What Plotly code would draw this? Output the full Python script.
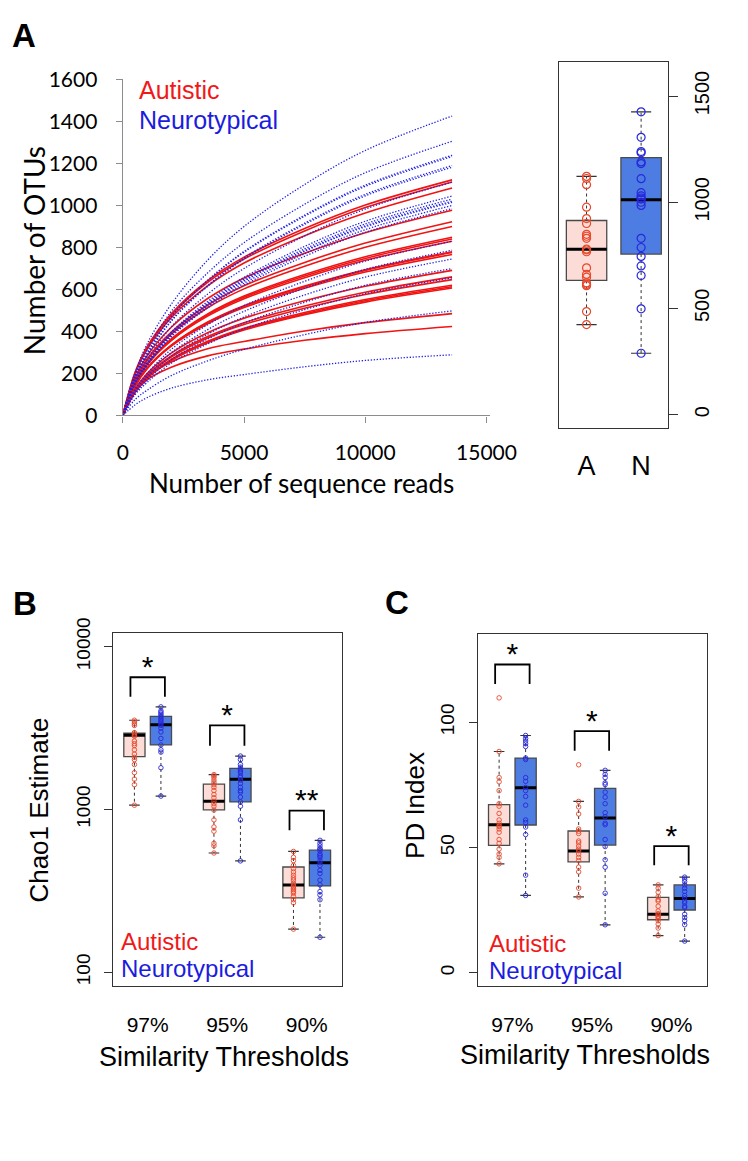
import plotly.graph_objects as go

W, H = 748, 1161
def px(x): return x / W
def py(y): return 1 - y / H

# ---------------- DATA ----------------
# Panel A: rarefaction curves (number of OTUs at given sequence-read depths)
reads = [0, 500, 1000, 2000, 3500, 5000, 7500, 10000, 13580]
autistic_curves = [
    [0, 203, 326, 484, 642, 754, 890, 1002, 1122],
    [0, 200, 322, 478, 634, 745, 879, 990, 1112],
    [0, 195, 314, 466, 617, 726, 856, 964, 1083],
    [0, 176, 283, 420, 557, 655, 772, 870, 977],
    [0, 166, 268, 397, 526, 618, 729, 821, 923],
    [0, 162, 261, 387, 513, 603, 711, 801, 900],
    [0, 153, 246, 365, 484, 569, 671, 756, 849],
    [0, 151, 244, 361, 479, 563, 664, 748, 840],
    [0, 149, 241, 357, 473, 556, 656, 739, 830],
    [0, 140, 226, 335, 445, 523, 616, 694, 780],
    [0, 140, 225, 334, 442, 520, 613, 691, 776],
    [0, 138, 222, 330, 437, 514, 606, 683, 767],
    [0, 124, 200, 297, 394, 463, 546, 615, 691],
    [0, 119, 191, 284, 376, 442, 521, 587, 660],
    [0, 116, 188, 278, 369, 433, 511, 576, 647],
    [0, 112, 180, 267, 353, 415, 490, 552, 620],
    [0, 110, 178, 264, 349, 411, 484, 546, 613],
    [0, 109, 176, 261, 346, 407, 480, 540, 607],
    [0, 120, 185, 255, 318, 352, 402, 442, 485],
    [0, 110, 170, 230, 284, 316, 358, 390, 424],
]
neuro_curves = [
    [0, 200, 340, 530, 740, 900, 1100, 1262, 1426],
    [0, 196, 313, 496, 679, 823, 1006, 1156, 1306],
    [0, 186, 297, 471, 644, 781, 954, 1097, 1239],
    [0, 185, 296, 469, 641, 777, 949, 1091, 1233],
    [0, 179, 286, 452, 619, 750, 916, 1053, 1190],
    [0, 177, 284, 449, 615, 745, 910, 1046, 1182],
    [0, 167, 267, 422, 578, 700, 855, 983, 1111],
    [0, 157, 251, 397, 543, 658, 805, 925, 1045],
    [0, 155, 247, 391, 536, 649, 793, 912, 1030],
    [0, 153, 245, 388, 530, 643, 785, 903, 1020],
    [0, 152, 244, 386, 528, 639, 782, 898, 1015],
    [0, 150, 240, 380, 520, 630, 770, 885, 1000],
    [0, 148, 236, 374, 512, 621, 758, 872, 985],
    [0, 125, 199, 315, 432, 523, 639, 735, 830],
    [0, 118, 189, 299, 409, 496, 606, 696, 787],
    [0, 112, 179, 283, 387, 469, 574, 659, 745],
    [0, 105, 168, 266, 364, 441, 539, 620, 700],
    [0, 98, 157, 249, 341, 413, 504, 580, 655],
    [0, 75, 120, 190, 260, 315, 385, 443, 498],
    [0, 50, 85, 130, 170, 195, 232, 262, 289],
]
reads_ticks = [0, 5000, 10000, 15000]
reads_ticktext = ["0", "5000", "10000", "15000"]
otu_ticks = [0, 200, 400, 600, 800, 1000, 1200, 1400, 1600]
otu_ticktext = ["0", "200", "400", "600", "800", "1000", "1200", "1400", "1600"]

# Panel A inset boxplot (final OTU counts per group)
group_labels = ["A", "N"]
otu_box_lo = [424, 289]
otu_box_q1 = [632, 756]
otu_box_med = [779, 1012]
otu_box_q3 = [914, 1210]
otu_box_hi = [1122, 1426]
otu_box_ticks = [0, 500, 1000, 1500]
otu_box_ticktext = ["0", "500", "1000", "1500"]

# Panels B & C: thresholds
thresholds = ["97%", "95%", "90%"]

# Chao1 box statistics (Autistic / Neurotypical) at 97, 95, 90 %
chao_A_lo = [1062, 540, 184]
chao_A_q1 = [2109, 995, 286]
chao_A_med = [2858, 1122, 344]
chao_A_q3 = [2938, 1432, 443]
chao_A_hi = [3532, 1637, 552]
chao_N_lo = [1208, 483, 164]
chao_N_q1 = [2489, 1112, 339]
chao_N_med = [3311, 1535, 470]
chao_N_q3 = [3733, 1786, 562]
chao_N_hi = [4266, 2128, 646]
chao_A_97 = [3532, 3451, 3357, 3281, 2965, 2911, 2858, 2818, 2630, 2535, 2466, 2323, 2188, 2089, 2023, 1888, 1683, 1535, 1419, 1062]
chao_N_97 = [4266, 4036, 3945, 3855, 3767, 3681, 3597, 3516, 3436, 3357, 3281, 3162, 2992, 2729, 2489, 2323, 2249, 1803, 1208]
chao_A_95 = [1637, 1607, 1570, 1514, 1466, 1419, 1368, 1306, 1236, 1180, 1122, 1086, 1047, 991, 863, 780, 735, 619, 597, 540]
chao_N_95 = [2128, 2023, 1888, 1820, 1762, 1722, 1683, 1607, 1570, 1514, 1445, 1368, 1306, 1276, 1191, 1112, 1047, 863, 483]
chao_A_90 = [552, 508, 485, 453, 433, 413, 394, 380, 368, 352, 344, 336, 328, 321, 313, 306, 292, 279, 267, 184]
chao_N_90 = [646, 619, 597, 575, 570, 557, 532, 520, 508, 485, 470, 453, 423, 404, 368, 344, 313, 299, 279, 164]
chao_ticks = [100, 1000, 10000]
chao_ticktext = ["100", "1000", "10000"]
chao_bracket_top = [6486, 3281, 982]
chao_bracket_bottom = [4920, 2466, 745]
chao_star_y = [7278, 3648, 1096]
chao_stars = ["*", "*", "**"]

# PD index box statistics
pd_A_lo = [43.5, 30.3, 14.9]
pd_A_q1 = [50.9, 44.3, 21.2]
pd_A_med = [59.1, 48.6, 23.4]
pd_A_q3 = [67.1, 56.6, 30.1]
pd_A_hi = [88.3, 68.4, 35.1]
pd_N_lo = [30.9, 19.2, 12.7]
pd_N_q1 = [59.0, 51.0, 25.1]
pd_N_med = [73.9, 61.8, 29.7]
pd_N_q3 = [85.7, 73.6, 35.1]
pd_N_hi = [94.7, 80.8, 38.2]
pd_A_97 = [109.7, 88.3, 77.9, 76.2, 72.7, 67.5, 66.5, 63.6, 61.0, 59.7, 58.7, 58.4, 57.4, 56.1, 53.2, 51.7, 49.4, 47.4, 46.1, 43.5]
pd_N_97 = [94.7, 93.5, 92.5, 91.4, 90.3, 85.7, 85.1, 77.9, 76.4, 74.0, 72.7, 70.4, 66.9, 61.0, 60.0, 58.2, 55.2, 39.0, 30.9]
pd_A_95 = [83.0, 68.4, 66.2, 63.4, 57.4, 56.5, 55.6, 52.6, 51.9, 50.6, 49.4, 48.7, 47.4, 46.1, 44.8, 42.2, 40.3, 33.8, 30.3]
pd_N_95 = [80.8, 79.2, 77.9, 75.8, 75.1, 72.1, 70.1, 67.5, 63.9, 62.3, 59.7, 59.1, 53.2, 50.4, 45.1, 42.2, 31.8, 19.2]
pd_A_90 = [35.1, 33.8, 32.2, 30.5, 29.2, 28.6, 26.6, 24.7, 23.6, 23.4, 22.7, 22.3, 21.8, 20.8, 19.5, 17.9, 14.9]
pd_N_90 = [38.2, 37.4, 36.4, 35.1, 33.8, 32.5, 30.9, 29.9, 28.6, 27.9, 26.6, 26.0, 23.4, 22.1, 20.8, 19.2, 12.7]
pd_ticks = [0, 50, 100]
pd_ticktext = ["0", "50", "100"]
pd_bracket_top = [123.0, 96.4, 50.6]
pd_bracket_bottom = [115.2, 88.6, 42.9]
pd_star_y = [126.2, 99.3, 53.8]
pd_stars = ["*", "*", "*"]

# ---------------- STYLE ----------------
RED_LINE = "#f01414"
BLUE_LINE = "#2020e6"
RED_TXT = "#f01818"
BLUE_TXT = "#1c1ce0"
FILL_A = "#fcdcd6"
FILL_N = "#4d7de2"
PT_A = "#e8482c"
PT_N = "#2828dc"
BORDER = "#4a4a4a"
FRAME = "#333333"
ARIAL = "Liberation Sans, Arial, sans-serif"
CAL = "Lato, Carlito, sans-serif"

fig = go.Figure()

# ---- Panel A curves ----
for c in autistic_curves:
    fig.add_trace(go.Scatter(x=reads, y=c, mode="lines", xaxis="x", yaxis="y",
                             line=dict(color=RED_LINE, width=1.6, shape="spline"),
                             hoverinfo="skip", showlegend=False))
for c in neuro_curves:
    fig.add_trace(go.Scatter(x=reads, y=c, mode="lines", xaxis="x", yaxis="y",
                             line=dict(color=BLUE_LINE, width=1.3, dash="1.3px,1.7px", shape="spline"),
                             hoverinfo="skip", showlegend=False))


def add_boxes(pos, lo, q1, med, q3, hi, fill, pts, ptcol, xa, ya, bw, msize, mlw):
    fig.add_trace(go.Box(x=pos, q1=q1, median=med, q3=q3, lowerfence=q1, upperfence=q3,
                         width=bw, fillcolor=fill, line=dict(color=BORDER, width=1.3),
                         whiskerwidth=0, boxpoints=False, xaxis=xa, yaxis=ya,
                         hoverinfo="skip", showlegend=False))
    wx, wy, cx, cy, mx, my = [], [], [], [], [], []
    cw = bw * 0.25
    for p, l, a, m, b, h in zip(pos, lo, q1, med, q3, hi):
        wx += [p, p, None, p, p, None]
        wy += [b, h, None, a, l, None]
        cx += [p - cw, p + cw, None, p - cw, p + cw, None]
        cy += [h, h, None, l, l, None]
        mx += [p - bw / 2, p + bw / 2, None]
        my += [m, m, None]
    fig.add_trace(go.Scatter(x=wx, y=wy, mode="lines", xaxis=xa, yaxis=ya,
                             line=dict(color="#333333", width=1, dash="3px,3px"),
                             hoverinfo="skip", showlegend=False))
    fig.add_trace(go.Scatter(x=cx, y=cy, mode="lines", xaxis=xa, yaxis=ya,
                             line=dict(color="#333333", width=1.2),
                             hoverinfo="skip", showlegend=False))
    fig.add_trace(go.Scatter(x=mx, y=my, mode="lines", xaxis=xa, yaxis=ya,
                             line=dict(color="black", width=3),
                             hoverinfo="skip", showlegend=False))
    for p, vals in zip(pos, pts):
        fig.add_trace(go.Scatter(x=[p] * len(vals), y=vals, mode="markers", xaxis=xa, yaxis=ya,
                                 marker=dict(symbol="circle-open", size=msize, color=ptcol,
                                             line=dict(width=mlw, color=ptcol)),
                                 hoverinfo="skip", showlegend=False))


# ---- Panel A inset boxplot ----
aut_final = [c[-1] for c in autistic_curves]
neu_final = [c[-1] for c in neuro_curves]
add_boxes([1], [otu_box_lo[0]], [otu_box_q1[0]], [otu_box_med[0]], [otu_box_q3[0]], [otu_box_hi[0]],
          FILL_A, [aut_final], PT_A, "x2", "y2", 0.74, 8, 1.2)
add_boxes([2], [otu_box_lo[1]], [otu_box_q1[1]], [otu_box_med[1]], [otu_box_q3[1]], [otu_box_hi[1]],
          FILL_N, [neu_final], PT_N, "x2", "y2", 0.74, 8, 1.2)

# ---- Panels B and C ----
posA = [1, 4, 7]
posN = [2, 5, 8]
add_boxes(posA, chao_A_lo, chao_A_q1, chao_A_med, chao_A_q3, chao_A_hi, FILL_A,
          [chao_A_97, chao_A_95, chao_A_90], PT_A, "x3", "y3", 0.8, 4.5, 0.9)
add_boxes(posN, chao_N_lo, chao_N_q1, chao_N_med, chao_N_q3, chao_N_hi, FILL_N,
          [chao_N_97, chao_N_95, chao_N_90], PT_N, "x3", "y3", 0.8, 4.5, 0.9)
add_boxes(posA, pd_A_lo, pd_A_q1, pd_A_med, pd_A_q3, pd_A_hi, FILL_A,
          [pd_A_97, pd_A_95, pd_A_90], PT_A, "x4", "y4", 0.8, 4.5, 0.9)
add_boxes(posN, pd_N_lo, pd_N_q1, pd_N_med, pd_N_q3, pd_N_hi, FILL_N,
          [pd_N_97, pd_N_95, pd_N_90], PT_N, "x4", "y4", 0.8, 4.5, 0.9)


def add_brackets(top, bottom, stars, star_y, xa, ya):
    bx, by = [], []
    for a, n, t, b in zip(posA, posN, top, bottom):
        bx += [a - 0.15, a - 0.15, n + 0.15, n + 0.15, None]
        by += [b, t, t, b, None]
    fig.add_trace(go.Scatter(x=bx, y=by, mode="lines", xaxis=xa, yaxis=ya,
                             line=dict(color="black", width=1.8),
                             hoverinfo="skip", showlegend=False))
    sx = [(a + n) / 2 for a, n in zip(posA, posN)]
    fig.add_trace(go.Scatter(x=sx, y=star_y, mode="text", text=stars, xaxis=xa, yaxis=ya,
                             textposition="middle center",
                             textfont=dict(family=ARIAL, size=30, color="black"),
                             hoverinfo="skip", showlegend=False))


add_brackets(chao_bracket_top, chao_bracket_bottom, chao_stars, chao_star_y, "x3", "y3")
add_brackets(pd_bracket_top, pd_bracket_bottom, pd_stars, pd_star_y, "x4", "y4")

# ---------------- LAYOUT ----------------
frame = dict(showline=True, mirror=True, linecolor=FRAME, linewidth=1, showgrid=False, zeroline=False)

fig.update_layout(
    width=W, height=H, margin=dict(l=0, r=0, t=0, b=0),
    paper_bgcolor="white", plot_bgcolor="rgba(0,0,0,0)",
    showlegend=False, boxmode="overlay",
    xaxis=dict(domain=[px(122), px(506)], range=[0, 15158], anchor="y",
               tickvals=reads_ticks, ticktext=reads_ticktext,
               showline=True, linecolor="#8c8c8c", linewidth=1.3, ticks="outside", ticklen=6,
               tickcolor="#8c8c8c", tickwidth=1.3, tickfont=dict(family=CAL, size=21, color="black"),
               ticklabelstandoff=12, showgrid=False, zeroline=False),
    yaxis=dict(domain=[py(409), py(65)], range=[0, 1600], anchor="x",
               tickvals=otu_ticks, ticktext=otu_ticktext,
               showline=True, linecolor="#8c8c8c", linewidth=1.3, ticks="outside", ticklen=6,
               tickcolor="#8c8c8c", tickwidth=1.3, tickfont=dict(family=CAL, size=21, color="black"),
               ticklabelstandoff=14, showgrid=False, zeroline=False),
    xaxis2=dict(domain=[px(578), px(692)], range=[0.5, 2.5], anchor="y2",
                tickvals=[1, 2], ticktext=group_labels, ticks="",
                tickfont=dict(family=ARIAL, size=27, color="black"), ticklabelstandoff=13, **frame),
    yaxis2=dict(domain=[py(422), py(47)], range=[-64, 1661], anchor="x2", side="right",
                tickvals=otu_box_ticks, ticktext=otu_box_ticktext, ticks="outside", ticklen=9,
                tickcolor=FRAME, tickangle=-90, tickfont=dict(family=ARIAL, size=20, color="black"),
                ticklabelstandoff=7, **frame),
    xaxis3=dict(domain=[px(112), px(351)], range=[0.2, 8.83], anchor="y3",
                tickvals=[1.5, 4.5, 7.5], ticktext=thresholds, ticks="",
                tickfont=dict(family=ARIAL, size=21, color="black"), ticklabelstandoff=20, **frame),
    yaxis3=dict(domain=[py(993), py(632)], type="log", range=[1.916, 4.082], anchor="x3",
                tickvals=chao_ticks, ticktext=chao_ticktext, ticks="outside", ticklen=8,
                tickcolor=FRAME, tickangle=-90, tickfont=dict(family=ARIAL, size=19, color="black"),
                ticklabelstandoff=7, **frame),
    xaxis4=dict(domain=[px(493), px(732)], range=[0.2, 8.83], anchor="y4",
                tickvals=[1.5, 4.5, 7.5], ticktext=thresholds, ticks="",
                tickfont=dict(family=ARIAL, size=21, color="black"), ticklabelstandoff=20, **frame),
    yaxis4=dict(domain=[py(993), py(633)], range=[-5.18, 135.06], anchor="x4",
                tickvals=pd_ticks, ticktext=pd_ticktext, ticks="outside", ticklen=8,
                tickcolor=FRAME, tickangle=-90, tickfont=dict(family=ARIAL, size=19, color="black"),
                ticklabelstandoff=7, **frame),
)

ann = []
def text(x, y, s, size, family=ARIAL, color="black", angle=0, xanchor="center", bold=False):
    ann.append(dict(x=px(x), y=py(y), xref="paper", yref="paper", text=("<b>%s</b>" % s) if bold else s,
                    showarrow=False, textangle=angle, xanchor=xanchor, yanchor="middle",
                    font=dict(family=family, size=size, color=color)))

# panel letters
text(19, 20, "A", 33, bold=True)
text(20, 601, "B", 33, bold=True)
text(408, 600, "C", 33, bold=True)
# panel A titles & legend
text(30, 240, "Number of OTUs", 28, family=CAL, angle=-90)
text(309, 478, "Number of sequence reads", 26, family=CAL)
text(137, 76, "Autistic", 25, color=RED_TXT, xanchor="left")
text(137, 106, "Neurotypical", 25, color=BLUE_TXT, xanchor="left")
# panel B
text(35, 813, "Chao1 Estimate", 26, angle=-90)
text(228, 1066, "Similarity Thresholds", 27)
text(118, 948, "Autistic", 24, color=RED_TXT, xanchor="left")
text(118, 975, "Neurotypical", 24, color=BLUE_TXT, xanchor="left")
# panel C
text(427, 808, "PD Index", 26, angle=-90)
text(605, 1064, "Similarity Thresholds", 27)
text(502, 950, "Autistic", 24, color=RED_TXT, xanchor="left")
text(502, 977, "Neurotypical", 24, color=BLUE_TXT, xanchor="left")

fig.update_layout(annotations=ann)
fig.write_html("out.html", config={"displayModeBar": False},
               post_script="document.body.style.margin='0';document.body.style.overflow='hidden';")
